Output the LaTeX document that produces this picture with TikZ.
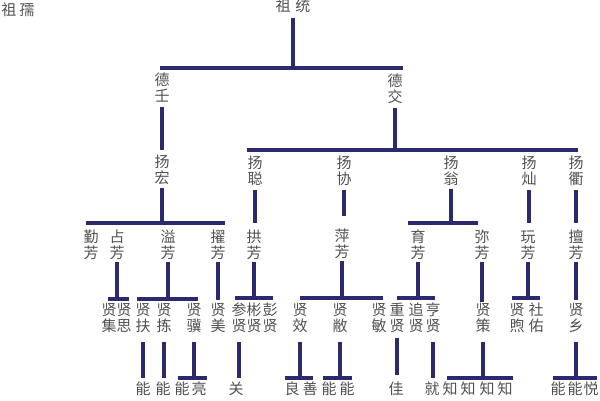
\documentclass[tikz,border=0pt]{standalone}
\usepackage{fontspec}
\newfontfamily\cjk{Noto Sans CJK SC}
\definecolor{ink}{RGB}{44,42,110}
\definecolor{txt}{RGB}{80,80,80}
\tikzset{
  nm/.style={font=\cjk\fontsize{15}{16}\selectfont, text=txt, inner sep=0pt, align=center, text height=28.5pt, text depth=1pt},
  nmone/.style={font=\cjk\fontsize{15}{16}\selectfont, text=txt, inner sep=0pt, text height=12.5pt, text depth=1pt},
  ln/.style={draw=ink, line width=3.2pt}
}
\begin{document}
\begin{tikzpicture}[x=1pt,y=-1pt]
\useasboundingbox (0,0) rectangle (600,400);
% generation 0
\node[nmone] (r0) at (18,10) {祖\hspace{3pt}孺};
\node[nmone] (r1) at (293,6) {祖\hspace{5pt}统};
% generation 1
\node[nm] (a1) at (162,88) {德\\壬};
\node[nm] (a2) at (395,89) {德\\交};
% generation 2
\node[nm] (b1) at (162,170) {扬\\宏};
\node[nm] (b2) at (255,171) {扬\\聪};
\node[nm] (b3) at (344,171) {扬\\协};
\node[nm] (b4) at (451,171) {扬\\翁};
\node[nm] (b5) at (529,171) {扬\\灿};
\node[nm] (b6) at (576,171) {扬\\衢};
% generation 3
\node[nm] (c1) at (91,245) {勤\\芳};
\node[nm] (c2) at (117,245) {占\\芳};
\node[nm] (c3) at (168,245) {溢\\芳};
\node[nm] (c4) at (218,245) {擢\\芳};
\node[nm] (c5) at (254,245) {拱\\芳};
\node[nm] (c6) at (342,244) {萍\\芳};
\node[nm] (c7) at (418,245) {育\\芳};
\node[nm] (c8) at (482,245) {弥\\芳};
\node[nm] (c9) at (528,245) {玩\\芳};
\node[nm] (c10) at (576,245) {擅\\芳};
% generation 4
\node[nm] (d1) at (109,318) {贤\\集};
\node[nm] (d2) at (124,318) {贤\\思};
\node[nm] (d3) at (143,318) {贤\\扶};
\node[nm] (d4) at (164,318) {贤\\拣};
\node[nm] (d5) at (194,318) {贤\\骥};
\node[nm] (d6) at (218,318) {贤\\美};
\node[nm] (d7) at (239,318) {参\\贤};
\node[nm] (d8) at (254,318) {彬\\贤};
\node[nm] (d9) at (270,318) {彭\\贤};
\node[nm] (d10) at (300,318) {贤\\效};
\node[nm] (d11) at (340,318) {贤\\敝};
\node[nm] (d12) at (379,318) {贤\\敏};
\node[nm] (d13) at (397,318) {重\\贤};
\node[nm] (d14) at (416,318) {追\\贤};
\node[nm] (d15) at (433,318) {亨\\贤};
\node[nm] (d16) at (483,318) {贤\\策};
\node[nm] (d17) at (517,318) {贤\\煦};
\node[nm] (d18) at (536,318) {社\\佑};
\node[nm] (d19) at (576,318) {贤\\乡};
% generation 5 (cut off at the bottom edge)
\node[nmone] (e1) at (143,389) {能};
\node[nmone] (e2) at (163,389) {能};
\node[nmone] (e3) at (182,389) {能};
\node[nmone] (e4) at (199,389) {亮};
\node[nmone] (e5) at (236,389) {关};
\node[nmone] (e6) at (292,389) {良};
\node[nmone] (e7) at (310,389) {善};
\node[nmone] (e8) at (329,389) {能};
\node[nmone] (e9) at (347,389) {能};
\node[nmone] (e10) at (396,389) {佳};
\node[nmone] (e11) at (432,389) {就};
\node[nmone] (e12) at (450,389) {知};
\node[nmone] (e13) at (468,389) {知};
\node[nmone] (e14) at (487,389) {知};
\node[nmone] (e15) at (505,389) {知};
\node[nmone] (e16) at (558,389) {能};
\node[nmone] (e17) at (575,389) {能};
\node[nmone] (e18) at (591,389) {悦};
% bar coordinates
\coordinate (L0a) at (160,68);  \coordinate (L0b) at (403,68);
\coordinate (L1a) at (247,150); \coordinate (L1b) at (578,150);
\coordinate (L2a) at (86,223);  \coordinate (L2b) at (225,223);
\coordinate (L3a) at (408,223); \coordinate (L3b) at (478,223);
\coordinate (L4a) at (108,299); \coordinate (L4b) at (129,299);
\coordinate (L5a) at (137,299); \coordinate (L5b) at (198,299);
\coordinate (L6a) at (235,298); \coordinate (L6b) at (273,298);
\coordinate (L7a) at (300,298); \coordinate (L7b) at (383,298);
\coordinate (L8a) at (397,298); \coordinate (L8b) at (435,298);
\coordinate (L9a) at (512,298); \coordinate (L9b) at (540,298);
\coordinate (L10a) at (178,378); \coordinate (L10b) at (207,378);
\coordinate (L11a) at (285,378); \coordinate (L11b) at (313,378);
\coordinate (L12a) at (323,378); \coordinate (L12b) at (352,378);
\coordinate (L13a) at (447,378); \coordinate (L13b) at (513,378);
\coordinate (L14a) at (553,378); \coordinate (L14b) at (597,378);
\foreach \b in {L0,L1,L2,L3,L4,L5,L6,L7,L8,L9,L10,L11,L12,L13,L14}
  \draw[ln] (\b a) -- (\b b);
% parent stems down to bars
\draw[ln] ([yshift=-5pt]r1.south) -- (r1.south |- L0a);
\draw[ln] ([yshift=-4pt]a2.south) -- (a2.south |- L1a);
\draw[ln] ([yshift=-3pt]b1.south) -- (b1.south |- L2a);
\draw[ln] ([yshift=-3pt]b4.south) -- (b4.south |- L3a);
\draw[ln] ([yshift=-2pt]c2.south) -- (c2.south |- L4a);
\draw[ln] ([yshift=-2pt]c3.south) -- (c3.south |- L5a);
\draw[ln] ([yshift=-2pt]c5.south) -- (c5.south |- L6a);
\draw[ln] ([yshift=-2pt]c6.south) -- (c6.south |- L7a);
\draw[ln] ([yshift=-2pt]c7.south) -- (c7.south |- L8a);
\draw[ln] ([yshift=-2pt]c9.south) -- (c9.south |- L9a);
\draw[ln] ([yshift=-9pt]d5.south) -- (d5.south |- L10a);
\draw[ln] ([yshift=-9pt]d10.south) -- (d10.south |- L11a);
\draw[ln] ([yshift=-9pt]d11.south) -- (d11.south |- L12a);
\draw[ln] ([yshift=-9pt]d16.south) -- (d16.south |- L13a);
\draw[ln] ([yshift=-9pt]d19.south) -- (d19.south |- L14a);
% single-child stems
\draw[ln] ([yshift=-4pt]a1.south) -- ([yshift=5pt]b1.north);
\draw[ln] ([yshift=-4pt]b2.south) -- ([yshift=7pt]c5.north -| b2.south);
\draw[ln] ([yshift=-4pt]b3.south) -- ([yshift=13pt]c6.north -| b3.south);
\draw[ln] ([yshift=-4pt]b5.south) -- ([yshift=7pt]c9.north -| b5.south);
\draw[ln] ([yshift=-4pt]b6.south) -- ([yshift=7pt]c10.north -| b6.south);
\draw[ln] ([yshift=-2pt]c4.south) -- ([yshift=3pt]d6.north -| c4.south);
\draw[ln] ([yshift=-2pt]c8.south) -- ([yshift=1pt]d16.north -| c8.south);
\draw[ln] ([yshift=-2pt]c10.south) -- ([yshift=3pt]d19.north -| c10.south);
\draw[ln] ([yshift=-9pt]d3.south) -- ([yshift=4pt]e1.north -| d3.south);
\draw[ln] ([yshift=-9pt]d4.south) -- ([yshift=4pt]e2.north -| d4.south);
\draw[ln] ([yshift=-9pt]d7.south) -- ([yshift=4pt]e5.north -| d7.south);
\draw[ln] ([yshift=-5pt]d13.south) -- ([yshift=7pt]e10.north -| d13.south);
\draw[ln] ([yshift=-9pt]d15.south) -- ([yshift=4pt]e11.north -| d15.south);
\end{tikzpicture}
\end{document}
